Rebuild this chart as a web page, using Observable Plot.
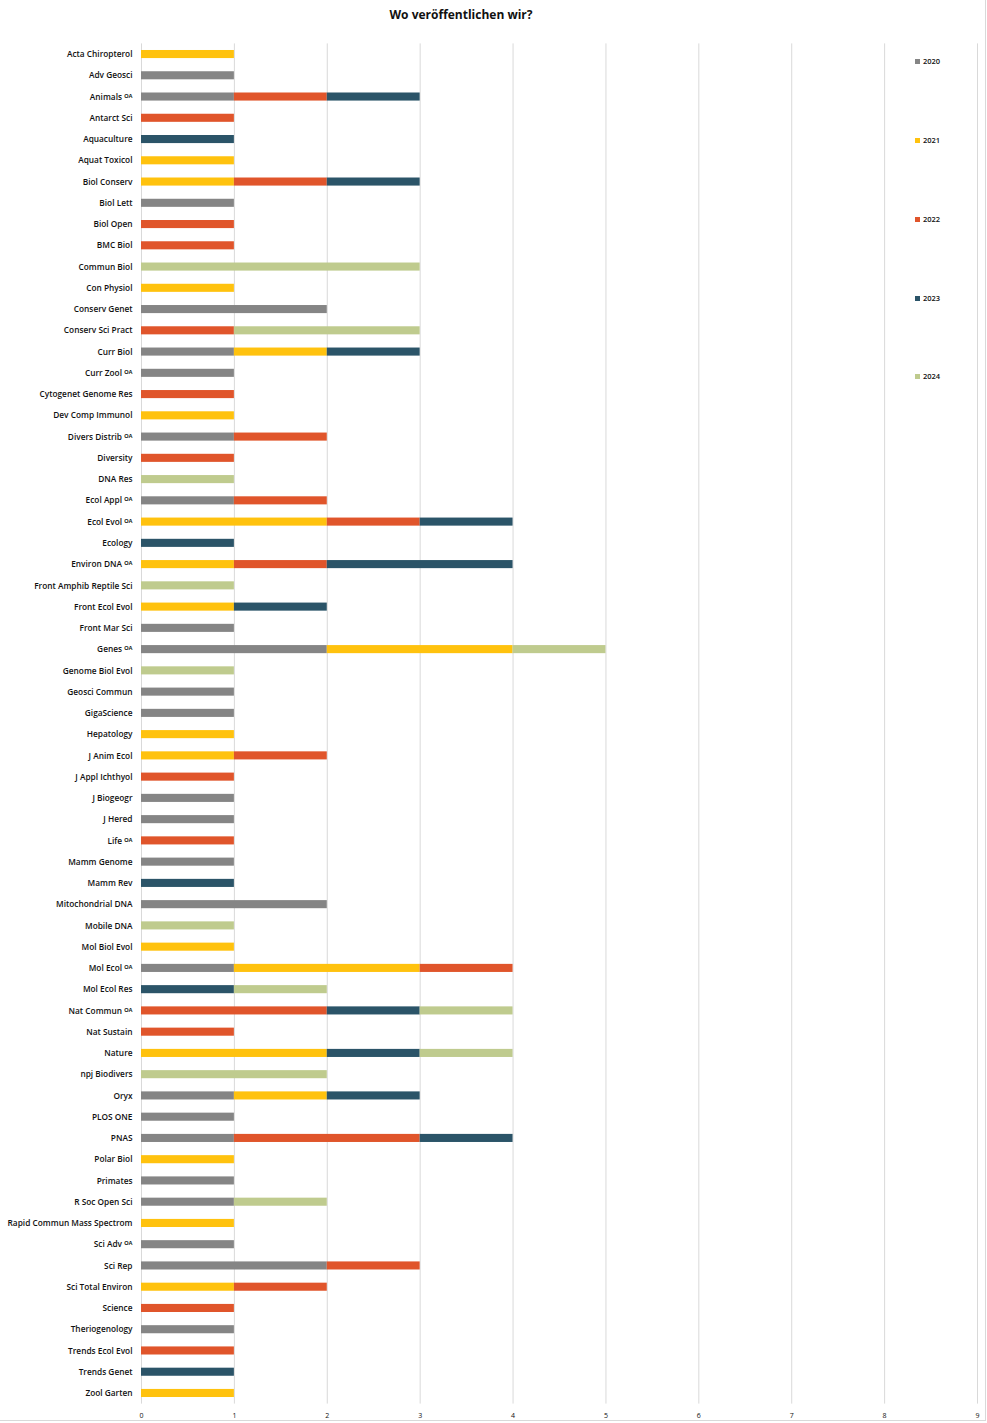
<!DOCTYPE html>
<html><head><meta charset="utf-8">
<script src="https://cdn.jsdelivr.net/npm/d3@7"></script>
<script src="https://cdn.jsdelivr.net/npm/@observablehq/plot@0.6"></script>
<style>
body{margin:0;background:#fff;font-family:"Open Sans",sans-serif;}
#wrap{position:relative;width:985px;height:1420px;border-right:1px solid #d9d9d9;border-bottom:1px solid #d9d9d9;overflow:hidden;}
#title{position:absolute;left:0;width:922px;top:6px;text-align:center;font-size:12px;font-weight:700;color:#111;}
#chart{position:absolute;left:0;top:30px;}
#chart svg{max-width:none;}
.lg{position:absolute;left:915px;font-size:7.5px;font-weight:600;color:#111;display:flex;align-items:center;}
.lg span.sw{display:inline-block;width:5px;height:5px;margin-right:3px;}
</style></head>
<body><div id="wrap"><div id="title">Wo veröffentlichen wir?</div><div id="chart"></div></div>
<script>
const journals = ["Acta Chiropterol","Adv Geosci","Animals ᴼᴬ","Antarct Sci","Aquaculture","Aquat Toxicol","Biol Conserv","Biol Lett","Biol Open","BMC Biol","Commun Biol","Con Physiol","Conserv Genet","Conserv Sci Pract","Curr Biol","Curr Zool ᴼᴬ","Cytogenet Genome Res","Dev Comp Immunol","Divers Distrib ᴼᴬ","Diversity","DNA Res","Ecol Appl ᴼᴬ","Ecol Evol ᴼᴬ","Ecology","Environ DNA ᴼᴬ","Front Amphib Reptile Sci","Front Ecol Evol","Front Mar Sci","Genes ᴼᴬ","Genome Biol Evol","Geosci Commun","GigaScience","Hepatology","J Anim Ecol","J Appl Ichthyol","J Biogeogr","J Hered","Life ᴼᴬ","Mamm Genome","Mamm Rev","Mitochondrial DNA","Mobile DNA","Mol Biol Evol","Mol Ecol ᴼᴬ","Mol Ecol Res","Nat Commun ᴼᴬ","Nat Sustain","Nature","npj Biodivers","Oryx","PLOS ONE","PNAS","Polar Biol","Primates","R Soc Open Sci","Rapid Commun Mass Spectrom","Sci Adv ᴼᴬ","Sci Rep","Sci Total Environ","Science","Theriogenology","Trends Ecol Evol","Trends Genet","Zool Garten"];
const years = ["2020","2021","2022","2023","2024"];
const colors = ["#858585","#FFC20E","#E0552B","#2B5468","#BFCB8E"];
const y2020 = [0,1,1,0,0,0,0,1,0,0,0,0,2,0,1,1,0,0,1,0,0,1,0,0,0,0,0,1,2,0,1,1,0,0,0,1,1,0,1,0,2,0,0,1,0,0,0,0,0,1,1,1,0,1,1,0,1,2,0,0,1,0,0,0];
const y2021 = [1,0,0,0,0,1,1,0,0,0,0,1,0,0,1,0,0,1,0,0,0,0,2,0,1,0,1,0,2,0,0,0,1,1,0,0,0,0,0,0,0,0,1,2,0,0,0,2,0,1,0,0,1,0,0,1,0,0,1,0,0,0,0,1];
const y2022 = [0,0,1,1,0,0,1,0,1,1,0,0,0,1,0,0,1,0,1,1,0,1,1,0,1,0,0,0,0,0,0,0,0,1,1,0,0,1,0,0,0,0,0,1,0,2,1,0,0,0,0,2,0,0,0,0,0,1,1,1,0,1,0,0];
const y2023 = [0,0,1,0,1,0,1,0,0,0,0,0,0,0,1,0,0,0,0,0,0,0,1,1,2,0,1,0,0,0,0,0,0,0,0,0,0,0,0,1,0,0,0,0,1,1,0,1,0,1,0,1,0,0,0,0,0,0,0,0,0,0,1,0];
const y2024 = [0,0,0,0,0,0,0,0,0,0,3,0,0,2,0,0,0,0,0,0,1,0,0,0,0,1,0,0,1,1,0,0,0,0,0,0,0,0,0,0,0,1,0,0,1,1,0,1,2,0,0,0,0,0,1,0,0,0,0,0,0,0,0,0];
const xTicks = [0,1,2,3,4,5,6,7,8,9];

const series = [y2020,y2021,y2022,y2023,y2024];
const rows = [];
journals.forEach((j,i)=>years.forEach((yr,k)=>{ if(series[k][i]>0) rows.push({journal:j, year:yr, count:series[k][i]}); }));

const chart = Plot.plot({
  width: 987,
  height: 1393,
  marginLeft: 141,
  marginRight: 10,
  marginTop: 13.4,
  marginBottom: 19.4,
  style:{fontFamily:"'Open Sans',sans-serif", fontSize:"7.5px", color:"#111", background:"transparent"},
  x:{domain:[0,9], ticks:xTicks, label:null, tickSize:0, tickPadding:4, tickFormat:d=>d},
  y:{domain:journals, label:null, tickSize:0, tickPadding:9, paddingInner:0.62, paddingOuter:0.31, round:false},
  color:{domain:years, range:colors},
  marks:[
    Plot.gridX(xTicks,{stroke:"#d9d9d9", strokeOpacity:1, strokeWidth:1}),
    Plot.barX(rows, Plot.stackX({x:"count", y:"journal", fill:"year", order:years, inset:0})),
    Plot.axisY({tickSize:0, tickPadding:9, fontWeight:600, fontSize:8.3}),
    Plot.axisX({ticks:xTicks, tickSize:0, tickPadding:9, fontSize:7, label:null})
  ]
});
document.getElementById("chart").appendChild(chart);

const legendY = [61,140,219,298,376];
const wrap = document.getElementById("wrap");
years.forEach((yr,k)=>{
  const d = document.createElement("div");
  d.className="lg";
  d.style.top = (legendY[k]-5)+"px";
  d.innerHTML = `<span class="sw" style="background:${colors[k]}"></span>${yr}`;
  wrap.appendChild(d);
});
</script></body></html>
